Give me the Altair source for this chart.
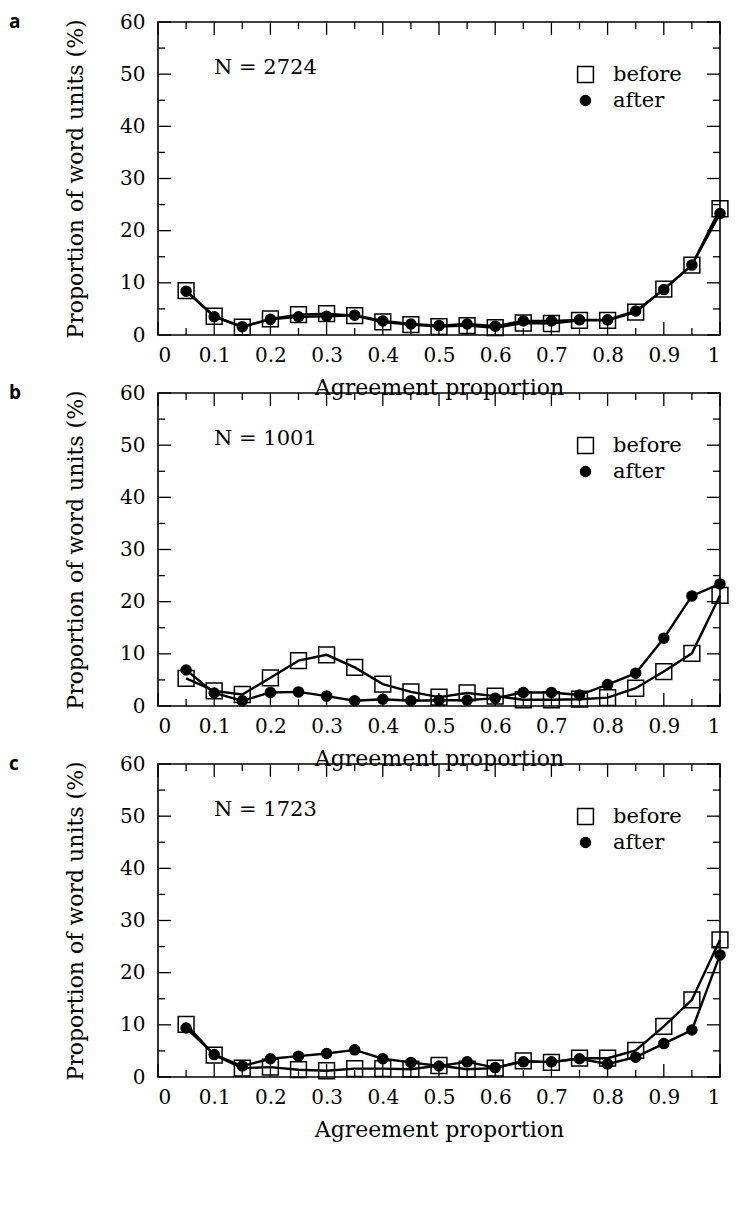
import altair as alt
import pandas as pd

# ---------------- data ----------------
x_vals = [0.05, 0.1, 0.15, 0.2, 0.25, 0.3, 0.35, 0.4, 0.45, 0.5,
          0.55, 0.6, 0.65, 0.7, 0.75, 0.8, 0.85, 0.9, 0.95, 1.0]

a_before = [8.5, 3.6, 1.5, 3.1, 3.9, 4.1, 3.7, 2.5, 2.0, 1.6,
            1.8, 1.4, 2.3, 2.2, 2.8, 2.8, 4.4, 8.8, 13.4, 24.2]
a_after = [8.4, 3.5, 1.6, 3.0, 3.5, 3.6, 3.8, 2.7, 2.1, 1.8,
           2.1, 1.7, 2.7, 2.7, 2.9, 2.9, 4.6, 8.7, 13.4, 23.3]

b_before = [5.3, 2.9, 2.2, 5.4, 8.7, 9.8, 7.4, 4.2, 2.7, 1.7,
            2.5, 1.9, 1.2, 1.2, 1.3, 1.6, 3.4, 6.6, 10.1, 21.2]
b_after = [6.9, 2.5, 1.0, 2.6, 2.7, 1.9, 1.0, 1.3, 1.0, 1.1,
           1.1, 1.5, 2.6, 2.6, 2.1, 4.1, 6.3, 13.0, 21.1, 23.4]

c_before = [10.1, 4.2, 1.7, 1.9, 1.4, 1.2, 1.6, 1.6, 1.5, 2.2,
            1.5, 1.7, 3.1, 2.8, 3.6, 3.6, 5.1, 9.7, 14.8, 26.3]
c_after = [9.4, 4.3, 2.1, 3.5, 4.0, 4.5, 5.2, 3.5, 2.8, 2.1,
           2.9, 1.8, 2.9, 2.9, 3.5, 2.5, 3.8, 6.4, 9.0, 23.4]

panel_letters = ["a", "b", "c"]
panel_n = [2724, 1001, 1723]
series_names = ["before", "after"]

x_major = [0, 0.1, 0.2, 0.3, 0.4, 0.5, 0.6, 0.7, 0.8, 0.9, 1]
x_minor = [0.05, 0.15, 0.25, 0.35, 0.45, 0.55, 0.65, 0.75, 0.85, 0.95]
y_major = [0, 10, 20, 30, 40, 50, 60]
y_minor = [5, 15, 25, 35, 45, 55]

# ---------------- styling ----------------
W, H = 562, 313
FONT = "DejaVu Serif"
MAJ, MIN = 13, 7

xs = alt.Scale(domain=[0, 1], nice=False, zero=False)
ys = alt.Scale(domain=[0, 60], nice=False)

x_axis = alt.Axis(values=x_major, format="~g", labelPadding=10,
                  title="Agreement proportion", titlePadding=12)
y_axis = alt.Axis(values=y_major, labelPadding=13,
                  title="Proportion of word units (%)", titlePadding=32)


def X(field="x"):
    return alt.X(f"{field}:Q", scale=xs, axis=x_axis, title="Agreement proportion")


def Y(field="v"):
    return alt.Y(f"{field}:Q", scale=ys, axis=y_axis, title="Proportion of word units (%)")


legend = alt.Legend(title=None, orient="none", legendX=417, legendY=42,
                    padding=0, labelFont=FONT, labelFontSize=21, labelColor="black",
                    labelOffset=17, rowPadding=3, symbolStrokeColor="black",
                    symbolStrokeWidth=1.5)


def make_panel(letter, n, before, after):
    df = pd.DataFrame({
        "x": x_vals + x_vals,
        "v": before + after,
        "series": [series_names[0]] * len(x_vals) + [series_names[1]] * len(x_vals),
    })
    base = alt.Chart(df)
    line = base.mark_line(color="black", strokeWidth=2.4).encode(
        x=X(), y=Y(), detail="series:N")
    pts = base.mark_point(opacity=1, fillOpacity=1, strokeWidth=1.5).encode(
        x=X(), y=Y(),
        shape=alt.Shape("series:N", scale=alt.Scale(domain=series_names, range=["square", "circle"]), legend=legend),
        fill=alt.Fill("series:N", scale=alt.Scale(domain=series_names, range=["transparent", "black"]), legend=legend),
        stroke=alt.Stroke("series:N", scale=alt.Scale(domain=series_names, range=["black", "black"]), legend=legend),
        size=alt.Size("series:N", scale=alt.Scale(domain=series_names, range=[250, 100]), legend=legend),
    )

    xmaj = pd.DataFrame({"x": x_major})
    xmin = pd.DataFrame({"x": x_minor})
    ymaj = pd.DataFrame({"v": y_major})
    ymin = pd.DataFrame({"v": y_minor})
    tk = dict(color="black", strokeWidth=1.3)
    ticks = [
        alt.Chart(xmaj).mark_rule(**tk).encode(x=X(), y=alt.value(H), y2=alt.value(H - MAJ)),
        alt.Chart(xmaj).mark_rule(**tk).encode(x=X(), y=alt.value(0), y2=alt.value(MAJ)),
        alt.Chart(xmin).mark_rule(**tk).encode(x=X(), y=alt.value(H), y2=alt.value(H - MIN)),
        alt.Chart(xmin).mark_rule(**tk).encode(x=X(), y=alt.value(0), y2=alt.value(MIN)),
        alt.Chart(ymaj).mark_rule(**tk).encode(y=Y(), x=alt.value(0), x2=alt.value(MAJ)),
        alt.Chart(ymaj).mark_rule(**tk).encode(y=Y(), x=alt.value(W), x2=alt.value(W - MAJ)),
        alt.Chart(ymin).mark_rule(**tk).encode(y=Y(), x=alt.value(0), x2=alt.value(MIN)),
        alt.Chart(ymin).mark_rule(**tk).encode(y=Y(), x=alt.value(W), x2=alt.value(W - MIN)),
    ]

    ntext = alt.Chart(pd.DataFrame({"t": [f"N = {n}"]})).mark_text(
        font=FONT, fontSize=21, align="left", baseline="middle", color="black"
    ).encode(text="t:N", x=alt.value(56), y=alt.value(46))

    lab = alt.Chart(pd.DataFrame({"t": [letter]})).mark_text(
        font="Open Sans", fontSize=19, fontWeight="bold", align="left", baseline="middle", color="black"
    ).encode(text="t:N", x=alt.value(-149), y=alt.value(0))

    return alt.layer(*ticks, line, pts, ntext, lab).properties(width=W, height=H)


panels = [make_panel(l, n, b, a) for l, n, b, a in zip(
    panel_letters, panel_n, [a_before, b_before, c_before], [a_after, b_after, c_after])]

chart = alt.vconcat(*panels, spacing=58, bounds="flush").resolve_scale(
    shape="independent", fill="independent", size="independent", stroke="independent"
).resolve_legend(
    shape="independent", fill="independent", size="independent", stroke="independent"
).properties(
    padding={"left": 0, "top": 3, "right": 0, "bottom": 5}
).configure_view(
    stroke="black", strokeWidth=1.6
).configure_axis(
    grid=False, ticks=False, domain=False,
    labelFont=FONT, labelFontSize=20, labelColor="black",
    titleFont=FONT, titleFontSize=22, titleFontWeight="normal", titleColor="black",
)

chart.save("out.html", embed_options={"renderer": "svg", "actions": False})
